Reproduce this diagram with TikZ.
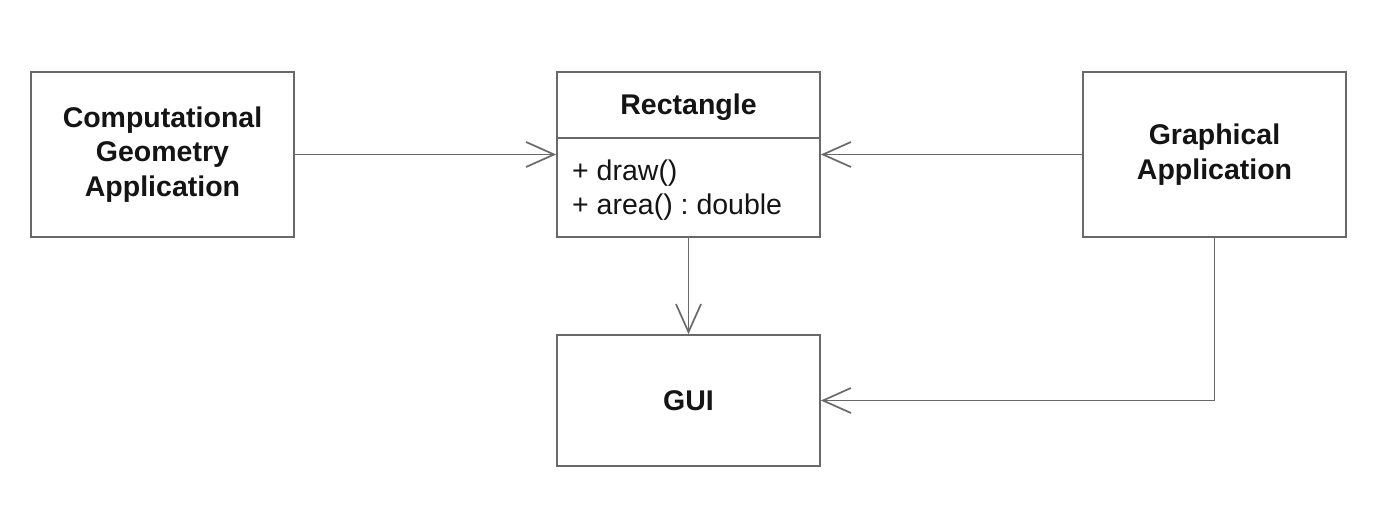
\documentclass[tikz,border=0pt]{standalone}
\usepackage{fontspec}
\setmainfont{Liberation Sans}
\usetikzlibrary{arrows.meta}
\frenchspacing
\definecolor{linegray}{RGB}{105,105,105}
\definecolor{textblack}{RGB}{20,20,20}
\tikzset{
  box/.style={draw=linegray, line width=1.7pt, fill=white, rectangle,
    minimum width=263pt, inner sep=0pt, text=textblack,
    font=\fontsize{28.5}{34.5}\selectfont\bfseries, align=center},
  conn/.style={draw=linegray, line width=1.7pt,
    -{Straight Barb[length=28pt, width=25pt, line width=1.7pt]}},
  attr/.style={text=textblack, font=\fontsize{28.5}{34}\selectfont\frenchspacing, align=left, inner sep=0pt, anchor=base west},
  divider/.style={draw=linegray, line width=1.7pt}
}
\begin{document}
\begin{tikzpicture}[x=1pt,y=-1pt]
\useasboundingbox (0,0) rectangle (1382,510);
\fill[white] (0,0) rectangle (1382,510);
\node[box, minimum height=165pt] (cga) at (162.5,154.5) {Computational\\Geometry\\Application};
\node[box, minimum height=165pt] (rect) at (688.5,154.5) {};
\node[box, minimum height=165pt] (ga) at (1214.5,154.5) {Graphical\\Application};
\node[box, minimum height=131pt] (gui) at (688.5,400.5) {GUI};
\node[text=textblack, font=\fontsize{28.5}{34}\selectfont\bfseries, inner sep=0pt, anchor=base] (rtitle) at (688.5,115) {Rectangle};
\coordinate (divl) at (557,138);
\coordinate (divr) at (820,138);
\draw[divider] (divl) -- (divr);
\node[attr] (a1) at (572,181) {+ draw()};
\node[attr] (a2) at (572,215) {+ area() : double};
\draw[conn] (cga.east) -- (rect.west);
\draw[conn] (ga.west) -- (rect.east);
\draw[conn] (rect.south) -- (gui.north);
\draw[conn] (ga.south) |- (gui.east);
\end{tikzpicture}
\end{document}
